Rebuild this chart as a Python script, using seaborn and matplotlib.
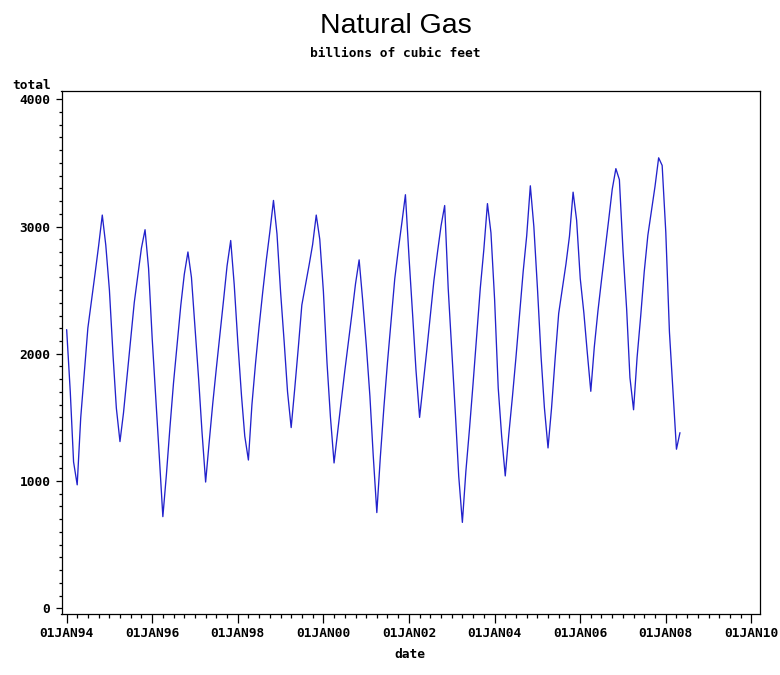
import matplotlib
matplotlib.use("Agg")
import pandas as pd
import matplotlib.pyplot as plt
import matplotlib.dates as mdates
from matplotlib.ticker import MultipleLocator, FuncFormatter
import seaborn as sns

# working gas in storage, first of each month, billions of cubic feet
y1994 = [2190, 1699, 1150, 970, 1497, 1852, 2202, 2417, 2634, 2850, 3090, 2853]
y1995 = [2499, 1985, 1574, 1310, 1535, 1830, 2122, 2403, 2617, 2830, 2975, 2672]
y1996 = [2119, 1648, 1203, 720, 1048, 1427, 1772, 2074, 2380, 2625, 2800, 2600]
y1997 = [2201, 1793, 1387, 992, 1302, 1611, 1882, 2151, 2422, 2691, 2890, 2543]
y1998 = [2087, 1672, 1353, 1165, 1599, 1926, 2212, 2483, 2737, 2958, 3205, 2942]
y1999 = [2481, 2084, 1701, 1420, 1722, 2049, 2383, 2539, 2697, 2858, 3090, 2900]
y2000 = [2490, 1927, 1504, 1142, 1383, 1626, 1861, 2087, 2318, 2549, 2738, 2423]
y2001 = [2068, 1666, 1205, 752, 1189, 1587, 1933, 2259, 2589, 2816, 3032, 3250]
y2002 = [2754, 2299, 1873, 1500, 1759, 2025, 2297, 2574, 2800, 3005, 3165, 2516]
y2003 = [2019, 1520, 1037, 675, 1077, 1412, 1762, 2137, 2516, 2817, 3180, 2950]
y2004 = [2429, 1731, 1356, 1040, 1363, 1660, 1968, 2308, 2647, 2927, 3320, 3000]
y2005 = [2511, 1972, 1577, 1260, 1573, 1966, 2317, 2510, 2705, 2924, 3270, 3050]
y2006 = [2591, 2320, 2020, 1705, 2054, 2336, 2576, 2814, 3055, 3293, 3455, 3368]
y2007 = [2808, 2350, 1813, 1560, 1970, 2298, 2644, 2931, 3124, 3315, 3540, 3480]
y2008 = [2956, 2173, 1721, 1250, 1380]

total = (y1994 + y1995 + y1996 + y1997 + y1998 + y1999 + y2000 + y2001
         + y2002 + y2003 + y2004 + y2005 + y2006 + y2007 + y2008)
dates = pd.date_range("1994-01-01", periods=len(total), freq="MS")
df = pd.DataFrame({"date": dates, "total": total})

sns.set_style("white")
plt.rcParams["font.family"] = ["DejaVu Sans Mono", "DejaVu Sans"]
for key in ["text.color", "axes.labelcolor", "xtick.color", "ytick.color"]:
    plt.rcParams[key] = "black"

mono = dict(family="DejaVu Sans Mono", weight="bold", size=9.3, color="black")

fig = plt.figure(figsize=(7.8, 6.75), dpi=100)
ax = fig.add_axes([61.5 / 780, 61 / 675, 698.5 / 780, 523 / 675])

sns.lineplot(data=df, x="date", y="total", ax=ax, color="#2222cc", linewidth=0.95)

ax.set_xlim(pd.Timestamp("1993-11-18"), pd.Timestamp("2010-03-15"))
ax.set_ylim(-45, 4065)

for sp in ax.spines.values():
    sp.set_visible(True)
    sp.set_color("black")
    sp.set_linewidth(0.9)

ax.xaxis.set_major_locator(mdates.YearLocator(2))
ax.xaxis.set_minor_locator(mdates.MonthLocator(bymonth=[1, 4, 7, 10]))
ax.xaxis.set_major_formatter(
    FuncFormatter(lambda v, pos: mdates.num2date(v).strftime("%d%b%y").upper()))
ax.yaxis.set_major_locator(MultipleLocator(1000))
ax.yaxis.set_minor_locator(MultipleLocator(100))

ax.tick_params(axis="x", which="major", bottom=True, direction="out",
               length=6.5, width=0.9, pad=3, colors="black")
ax.tick_params(axis="x", which="minor", bottom=True, direction="out",
               length=3, width=0.9, colors="black")
ax.tick_params(axis="y", which="major", left=True, direction="out",
               length=4, width=0.9, pad=4, colors="black")
ax.tick_params(axis="y", which="minor", left=True, direction="out",
               length=2, width=0.9, colors="black")
for lab in ax.get_xticklabels() + ax.get_yticklabels():
    lab.set_fontfamily(mono["family"])
    lab.set_fontweight("bold")
    lab.set_fontsize(mono["size"])

ax.set_xlabel("date", fontdict=mono)
ax.xaxis.set_label_coords(0.499, -0.078)
ax.xaxis.label.set_va("center")
ax.set_ylabel("total", fontdict=mono, rotation=0, ha="center", va="baseline")
ax.yaxis.set_label_coords(-0.043, 1.004)

fig.text(396 / 780, 1 - 33.3 / 675, "Natural Gas", ha="center", va="baseline",
         family="Liberation Sans", fontsize=20.5, color="black")
fig.text(395 / 780, 1 - 56.7 / 675, "billions of cubic feet", ha="center",
         va="baseline", **mono)

fig.savefig("out.png", dpi=100)
